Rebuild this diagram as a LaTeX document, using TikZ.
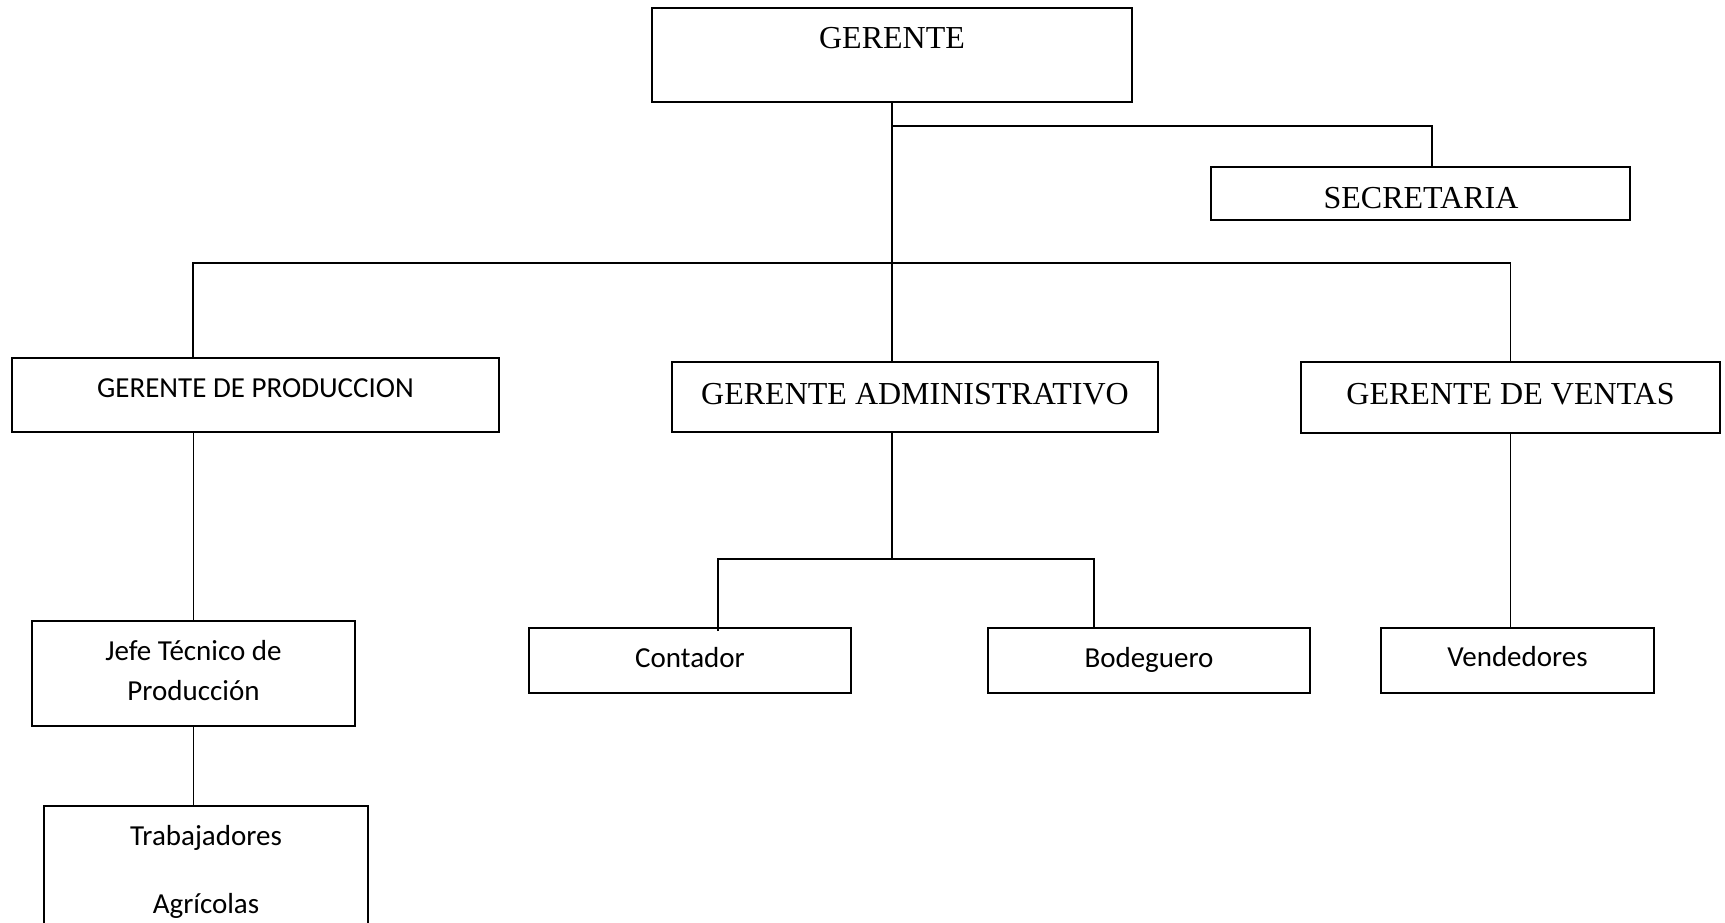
\documentclass[tikz,border=0pt]{standalone}
\usepackage{fontspec}
\setmainfont{Liberation Serif}
\newfontfamily\calibrifont{Carlito}
\begin{document}
\begin{tikzpicture}[x=1pt,y=-1pt,
  orgbox/.style={draw=black,line width=1.8pt,rectangle,inner sep=0pt,outer sep=0pt},
  conn/.style={draw=black,line width=1.8pt},
  serifname/.style={anchor=base,inner sep=0pt,font=\fontsize{32}{38}\selectfont},
  sansname/.style={anchor=base,inner sep=0pt,font=\calibrifont\fontsize{29}{35}\selectfont}]
\useasboundingbox (0,0) rectangle (1725,923);
\clip (0,0) rectangle (1725,923);
\fill[white] (0,0) rectangle (1725,923);

% boxes
\node[orgbox,minimum width=480,minimum height=94] (ger) at (892,55) {};
\node[orgbox,minimum width=419,minimum height=53] (sec) at (1420.5,193.5) {};
\node[orgbox,minimum width=487,minimum height=74] (prod) at (255.5,395) {};
\node[orgbox,minimum width=486,minimum height=70] (adm) at (915,397) {};
\node[orgbox,minimum width=419,minimum height=71] (ven) at (1510.5,397.5) {};
\node[orgbox,minimum width=323,minimum height=105] (jefe) at (193.5,673.5) {};
\node[orgbox,minimum width=324,minimum height=134] (trab) at (206,873) {};
\node[orgbox,minimum width=322,minimum height=65] (cont) at (690,660.5) {};
\node[orgbox,minimum width=322,minimum height=65] (bod) at (1149,660.5) {};
\node[orgbox,minimum width=273,minimum height=65] (vend) at (1517.5,660.5) {};

% labels
\node[serifname] (tger) at (892,49) {GERENTE};
\node[serifname] (tsec) at (1421,208) {SECRETARIA};
\node[sansname] (tprod) at (255.5,397) {GERENTE DE PRODUCCION};
\node[serifname] (tadm) at (915,404) {GERENTE ADMINISTRATIVO};
\node[serifname] (tven) at (1510.5,404) {GERENTE DE VENTAS};
\node[sansname] (tjefea) at (193.5,660) {Jefe Técnico de};
\node[sansname] (tjefeb) at (193.5,700) {Producción};
\node[sansname] (ttraba) at (206,845) {Trabajadores};
\node[sansname] (ttrabb) at (206,913) {Agrícolas};
\node[sansname] (tcont) at (690,667) {Contador};
\node[sansname] (tbod) at (1149,667) {Bodeguero};
\node[sansname] (tvend) at (1517.5,666) {Vendedores};

% junction points
\coordinate (jsec) at (892,126);
\coordinate (barL) at (193,263);
\coordinate (jadm) at (892,559);
\coordinate (cL) at (718,559);
\coordinate (cR) at (1094,559);

% connectors
\draw[conn] (ger.south) -- (ger.south |- adm.north);
\draw[conn] (jsec) -| ([xshift=11.5pt]sec.north);
\draw[conn] (barL |- prod.north) -- (barL) -- (ven.north |- barL) -- (ven.north);
\draw[conn] (jefe.north |- prod.south) -- (jefe.north);
\draw[conn] (jefe.south) -- (jefe.south |- trab.north);
\draw[conn] (ger.south |- adm.south) -- (jadm);
\draw[conn] ([yshift=-3pt]cL |- cont.north) -- (cL) -- (cR) -- (cR |- bod.north);
\draw[conn] (ven.south) -- (ven.south |- vend.north);
\end{tikzpicture}
\end{document}
